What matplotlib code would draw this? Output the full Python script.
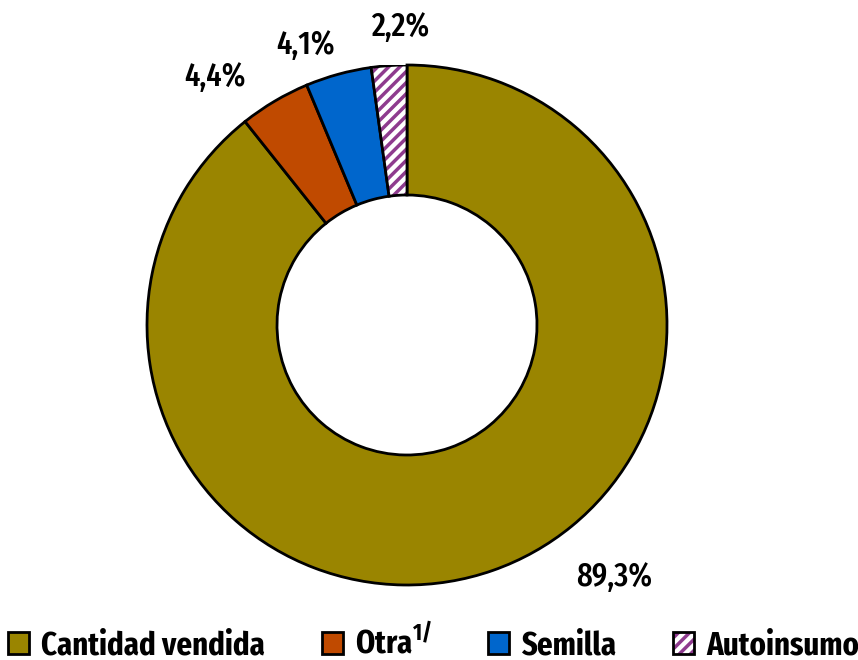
import matplotlib
matplotlib.use("Agg")
import matplotlib.pyplot as plt
from matplotlib import font_manager
from matplotlib.patches import Patch, Wedge, Rectangle
from matplotlib.legend_handler import HandlerBase

categories = ["Cantidad vendida", "Otra", "Semilla", "Autoinsumo"]
values = [89.3, 4.4, 4.1, 2.2]
pct_labels = ["89,3%", "4,4%", "4,1%", "2,2%"]
legend_labels = ["Cantidad vendida", r"Otra$^{\mathbf{1/}}$", "Semilla", "Autoinsumo"]

colors = ["#9A8500", "#C04A00", "#0066CC", "#FFFFFF"]
hatch_color = "#8E3B8E"

names = {f.name for f in font_manager.fontManager.ttflist}
font = "DejaVu Sans"
for cand in ["Fira Sans Extra Condensed", "Fira Sans Condensed", "Open Sans Condensed",
             "Roboto Condensed", "Asap Condensed", "Barlow Condensed", "Archivo Narrow"]:
    if cand in names:
        font = cand
        break
plt.rcParams["font.family"] = [font, "DejaVu Sans"]
plt.rcParams["mathtext.fontset"] = "custom"
plt.rcParams["mathtext.rm"] = font
plt.rcParams["mathtext.bf"] = font + ":bold"
plt.rcParams["hatch.linewidth"] = 2.5

W, H = 858, 660
fig = plt.figure(figsize=(W / 100, H / 100), dpi=100)
cx, cy, R = 407, 325, 260
ax = fig.add_axes([(cx - R) / W, (H - cy - R) / H, 2 * R / W, 2 * R / H])

wedges, _ = ax.pie(values, colors=colors, startangle=90, counterclock=False,
                   radius=1.0,
                   wedgeprops=dict(width=0.5, edgecolor="black", linewidth=2))
hw = wedges[3]
hw.set_edgecolor(hatch_color)
hw.set_hatch("///")
hw.set_linewidth(0)
outline = Wedge(hw.center, hw.r, hw.theta1, hw.theta2, width=hw.width,
                facecolor="none", edgecolor="black", linewidth=2)
ax.add_patch(outline)
ax.set_xlim(-1, 1)
ax.set_ylim(-1, 1)
ax.set_aspect("equal")
ax.axis("off")

label_pos = [(0.796, -0.969), (-0.738, 0.954), (-0.392, 1.077), (-0.027, 1.146)]
for lab, (x, y) in zip(pct_labels, label_pos):
    ax.text(x, y, lab, ha="center", va="center", fontsize=24, fontweight="medium",
            clip_on=False)


class HatchHandler(HandlerBase):
    def create_artists(self, legend, orig_handle, xdescent, ydescent, width, height,
                       fontsize, trans):
        r1 = Rectangle((-xdescent, -ydescent), width, height, facecolor="white",
                       edgecolor=hatch_color, hatch="///", linewidth=0, transform=trans)
        r2 = Rectangle((-xdescent, -ydescent), width, height, facecolor="none",
                       edgecolor="black", linewidth=2, transform=trans)
        return [r1, r2]


handles = []
for i, c in enumerate(colors):
    if i == 3:
        handles.append(Patch(facecolor="white", edgecolor=hatch_color, hatch="///"))
    else:
        handles.append(Patch(facecolor=c, edgecolor="black", linewidth=2))

leg = fig.legend(handles, legend_labels, loc="center", bbox_to_anchor=(433.5 / W, 1 - 643 / H),
                 ncol=4, frameon=False, handlelength=0.63, handleheight=0.63,
                 handletextpad=0.36, columnspacing=1.7, borderaxespad=0, borderpad=0,
                 handler_map={handles[3]: HatchHandler()},
                 prop=dict(weight="bold", size=24))

fig.savefig("out.png", dpi=100)
